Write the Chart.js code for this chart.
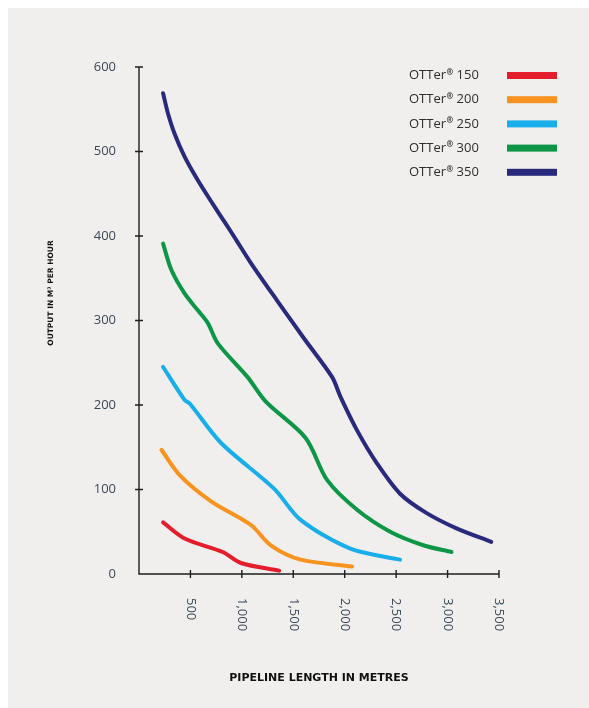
<!DOCTYPE html>
<html>
<head>
<meta charset="utf-8">
<script src="https://cdn.jsdelivr.net/npm/chart.js@4"></script>
<style>
  html, body { margin: 0; padding: 0; background: #fff; }
  #wrap { position: absolute; left: 0; top: 0; width: 589px; height: 708px; }
  #bg { position: absolute; left: 8px; top: 8px; right: 0; bottom: 0; background: #f0efed; }
  canvas { position: absolute; left: 0; top: 0; }
</style>
</head>
<body>
<div id="wrap">
  <div id="bg"></div>
  <canvas id="chart" width="589" height="708"></canvas>
</div>
<script>
// series (pipeline length in metres, output m3/h)
const names   = ["OTTer® 150", "OTTer® 200", "OTTer® 250", "OTTer® 300", "OTTer® 350"];
const colours = ["#e31d2b", "#f7931e", "#17aeea", "#0e9647", "#2a2a7c"];

const x150 = [234, 443, 814, 991, 1362];
const y150 = [61, 42, 26, 13, 4];

const x200 = [218, 395, 701, 1088, 1281, 1571, 2071];
const y200 = [147, 117, 86, 58, 34, 17, 9];

const x250 = [234, 443, 491, 798, 1313, 1571, 2055, 2538];
const y250 = [245, 206, 202, 155, 101, 64, 30, 17];

const x300 = [234, 314, 443, 572, 669, 766, 1056, 1233, 1620, 1830, 2120, 2442, 2764, 3038];
const y300 = [391, 360, 332, 312, 297, 273, 233, 204, 161, 111, 76, 50, 34, 26];

const x350 = [234, 282, 346, 443, 572, 717, 862, 926, 1088, 1346, 1603, 1878, 1958, 2120, 2313, 2538, 2797, 3087, 3425];
const y350 = [569, 545, 521, 494, 466, 438, 411, 399, 368, 323, 279, 233, 210, 170, 131, 95, 72, 54, 38];

const xTicks = [500, 1000, 1500, 2000, 2500, 3000, 3500];
const xTickLabels = ["500", "1,000", "1,500", "2,000", "2,500", "3,000", "3,500"];
const yTicks = [0, 100, 200, 300, 400, 500, 600];

const allX = [x150, x200, x250, x300, x350];
const allY = [y150, y200, y250, y300, y350];

const datasets = names.map((n, i) => ({
  label: n,
  data: allX[i].map((x, j) => ({ x: x, y: allY[i][j] })),
  borderColor: colours[i],
  backgroundColor: colours[i],
  borderWidth: 4,
  borderCapStyle: "round",
  pointRadius: 0,
  tension: 0.3,
  clip: false
}));

const axesPlugin = {
  id: "axes",
  beforeDatasetsDraw(chart) {
    const ctx = chart.ctx;
    const xs = chart.scales.x, ys = chart.scales.y;
    const x0 = xs.getPixelForValue(0), x1 = xs.getPixelForValue(3500);
    const y0 = ys.getPixelForValue(0), y1 = ys.getPixelForValue(600);
    ctx.save();
    ctx.strokeStyle = "#1e1e1e";
    ctx.lineWidth = 1.4;
    ctx.beginPath();
    ctx.moveTo(x0, y1); ctx.lineTo(x0, y0); ctx.lineTo(x1, y0);
    yTicks.forEach(v => {
      const p = ys.getPixelForValue(v);
      if (v > 0) { ctx.moveTo(x0 - 4, p); ctx.lineTo(x0 + 4, p); }
    });
    xTicks.forEach(v => {
      const p = xs.getPixelForValue(v);
      ctx.moveTo(p, y0 - 4); ctx.lineTo(p, y0 + 4);
    });
    ctx.stroke();

    // y tick labels
    ctx.fillStyle = "#3c4858";
    ctx.font = "13px 'Open Sans'";
    ctx.textAlign = "right";
    ctx.textBaseline = "middle";
    yTicks.forEach(v => ctx.fillText(String(v), 116, ys.getPixelForValue(v)));

    // x tick labels, rotated clockwise
    ctx.textAlign = "left";
    xTicks.forEach((v, i) => {
      ctx.save();
      ctx.translate(xs.getPixelForValue(v), 598);
      ctx.rotate(Math.PI / 2);
      ctx.fillText(xTickLabels[i], 0, 0);
      ctx.restore();
    });

    // axis titles
    ctx.fillStyle = "#111";
    ctx.textAlign = "center";
    ctx.font = "bold 11px 'DejaVu Sans'";
    ctx.fillText("PIPELINE LENGTH IN METRES", 319, 678);
    ctx.save();
    ctx.translate(51, 293);
    ctx.rotate(-Math.PI / 2);
    ctx.font = "bold 7.5px 'DejaVu Sans'";
    ctx.fillText("OUTPUT IN M³ PER HOUR", 0, 0);
    ctx.restore();
    ctx.restore();
  },
  afterDraw(chart) {
    const ctx = chart.ctx;
    ctx.save();
    ctx.textBaseline = "middle";
    chart.data.datasets.forEach((ds, i) => {
      const y = 75.5 + i * 24.2;
      const parts = ds.label.split("®");
      ctx.fillStyle = "#2e2e2e";
      ctx.textAlign = "left";
      ctx.font = "13px 'Open Sans'";
      let x = 409;
      ctx.fillText(parts[0], x, y);
      x += ctx.measureText(parts[0]).width + 0.5;
      ctx.font = "bold 8px 'Open Sans'";
      ctx.fillText("®", x, y - 3);
      x += ctx.measureText("®").width;
      ctx.font = "13px 'Open Sans'";
      ctx.fillText(parts[1], x, y);
      ctx.fillStyle = ds.borderColor;
      ctx.fillRect(507, y - 3.5, 50, 7);
    });
    ctx.restore();
  }
};

new Chart(document.getElementById("chart"), {
  type: "line",
  data: { datasets },
  options: {
    responsive: false,
    animation: false,
    layout: { padding: { left: 139, right: 90, top: 67, bottom: 134 } },
    scales: {
      x: { type: "linear", min: 0, max: 3500, display: false },
      y: { min: 0, max: 600, display: false }
    },
    plugins: { legend: { display: false }, tooltip: { enabled: false } }
  },
  plugins: [axesPlugin]
});
</script>
</body>
</html>
